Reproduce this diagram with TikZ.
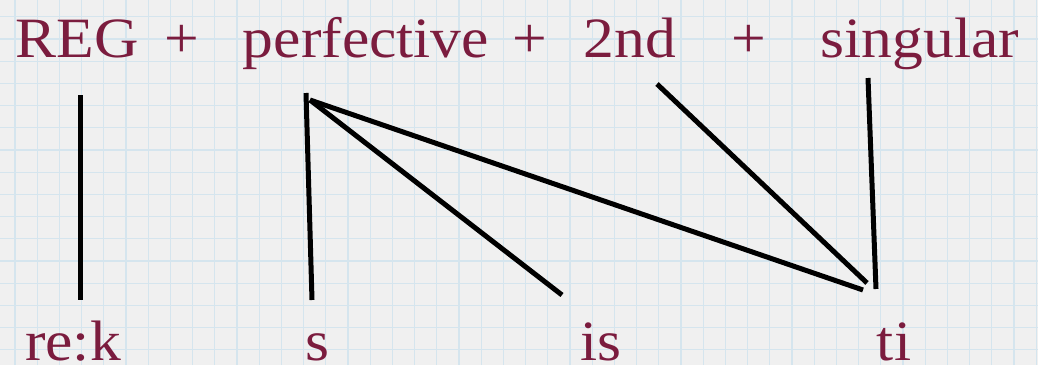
\documentclass[tikz,border=0pt]{standalone}
\usepackage{fontspec}
\setmainfont{Liberation Serif}[FakeStretch=1.08]
\definecolor{wordred}{HTML}{7B1C3E}
\definecolor{paper}{HTML}{F0F0F0}
\definecolor{gridblue}{HTML}{D5E5EE}
\tikzset{
  word/.style={anchor=base, inner sep=0pt, text=wordred, font=\fontsize{57}{60}\selectfont},
  link/.style={line width=5pt, black}
}
\begin{document}
\begin{tikzpicture}[x=1pt,y=1pt]
\fill[paper] (0,0) rectangle (1038,365);
\useasboundingbox (0,0) rectangle (1038,365);
\begin{scope}
\clip (0,0) rectangle (1038,365);
\foreach \i in {0,...,46} {
  \draw[gridblue, line width=1.2pt] ({15+22.2*\i},0) -- ({15+22.2*\i},365);
}
\foreach \j in {0,...,16} {
  \draw[gridblue, line width=1.2pt] (0,{365-16.8-22.2*\j}) -- (1038,{365-16.8-22.2*\j});
}
\end{scope}
% top words
\node[word] (reg) at (77,308) {REG};
\node[word] (p1) at (182,308) {+};
\node[word] (perf) at (366,308) {perfective};
\node[word] (p2) at (530,308) {+};
\node[word] (snd) at (630,308) {2nd};
\node[word] (p3) at (749,308) {+};
\node[word] (sing) at (920,308) {singular};
% bottom words
\node[word] (rek) at (73,5) {re:k};
\node[word] (s) at (317,5) {s};
\node[word] (is) at (601,5) {is};
\node[word] (ti) at (894,5) {ti};
% connector end points
\coordinate (reg-a) at (80,270);
\coordinate (rek-a) at (80,65);
\coordinate (perf-a) at (306,272);
\coordinate (perf-b) at (310,265);
\coordinate (s-a) at (312,65);
\coordinate (is-a) at (562,70);
\coordinate (ti-a) at (863,75);
\coordinate (ti-b) at (867,82);
\coordinate (ti-c) at (876,76);
\coordinate (snd-a) at (657,281);
\coordinate (sing-a) at (868,287);
% connectors
\draw[link] (reg-a) -- (rek-a);
\draw[link] (perf-a) -- (s-a);
\draw[link] (perf-b) -- (is-a);
\draw[link] (perf-b) -- (ti-a);
\draw[link] (snd-a) -- (ti-b);
\draw[link] (sing-a) -- (ti-c);
\end{tikzpicture}
\end{document}
